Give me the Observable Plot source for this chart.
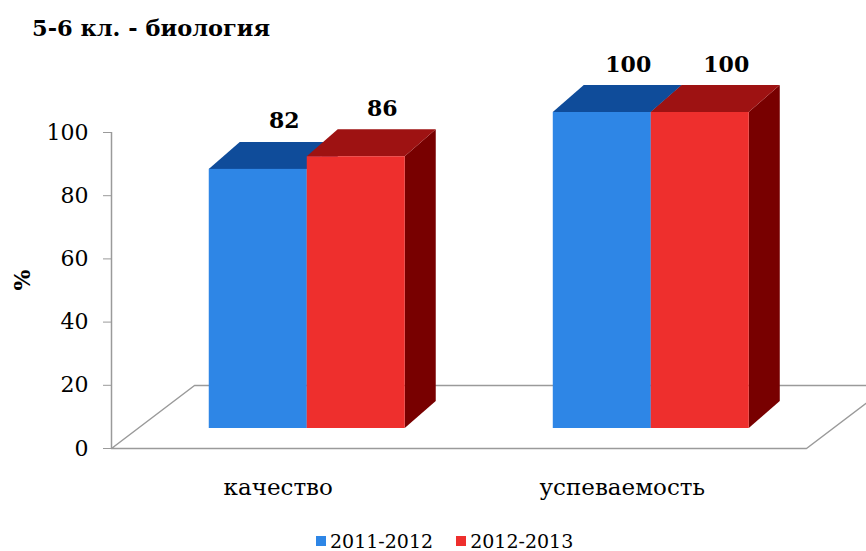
<!DOCTYPE html>
<html><head><meta charset="utf-8">
<script src="https://cdn.jsdelivr.net/npm/d3@7"></script>
<script src="https://cdn.jsdelivr.net/npm/@observablehq/plot@0.6"></script>
<style>
html,body{margin:0;padding:0;background:#fff;overflow:hidden;}
body{width:866px;height:551px;font-family:"DejaVu Serif",serif;color:#000;}
#title{height:50px;box-sizing:border-box;padding:15px 0 0 32px;font-weight:bold;font-size:22.5px;line-height:26px;}
#chart svg{display:block;overflow:hidden;}
#legend{height:39px;box-sizing:border-box;padding:18px 0 0 316px;display:flex;align-items:center;font-size:19px;line-height:20px;}
#legend .sw{width:10px;height:10px;margin-right:4px;display:inline-block;}
#legend .item{display:flex;align-items:center;margin-right:23px;}
</style></head>
<body>
<div id="title">5-6 кл. - биология</div>
<div id="chart"></div>
<div id="legend"></div>
<script>
// ---- data ----
const categories = ["качество", "успеваемость"];
const series = ["2011-2012", "2012-2013"];
const values2011 = [82, 100];
const values2012 = [86, 100];
const yTicks = [0, 20, 40, 60, 80, 100];
const yLabel = "%";
const frontColors = ["#2E86E6", "#EE2F2D"];
const topColors = ["#0F4C9A", "#9E1212"];
const sideColors = ["#0A3A78", "#780000"];

// ---- layout ----
const W = 866, H = 462;
const mL = 111, mR = 60, mT = 82, mB = 64;
const xDomain = [0, categories.length];
const pxX = (W - mL - mR) / (xDomain[1] - xDomain[0]);
const pxY = (H - mT - mB) / 100;
const plane = {dx: 22, dy: -20};       // bars' plane offset (px)
const depth = {dx: 31, dy: 27};        // bar depth (px)
const floorDepth = {dx: 83, dy: 63};   // floor depth (px)
const dX = depth.dx / pxX, dY = depth.dy / pxY;
const fX = floorDepth.dx / pxX, fY = floorDepth.dy / pxY;
const pairFrac = 0.564;
const barW = pairFrac / series.length;
const groupShift = 0.01;

const seriesValues = [values2011, values2012];
const bars = [];
seriesValues.forEach((vals, s) => vals.forEach((v, g) => {
  const xl = g + (1 - pairFrac) / 2 + s * barW - g * groupShift;
  bars.push({s, g, v, xl, xr: xl + barW, id: s + "-" + g});
}));

const floorPts = [
  {x: xDomain[0], y: 0}, {x: xDomain[1], y: 0},
  {x: xDomain[1] + fX, y: fY}, {x: xDomain[0] + fX, y: fY}, {x: xDomain[0], y: 0}
];

const marks = [
  Plot.line(floorPts, {x: "x", y: "y", stroke: "#9a9a9a", strokeWidth: 1.5}),
  Plot.ruleX([0], {y1: 0, y2: 100, stroke: "#9a9a9a", strokeWidth: 1.5}),
  Plot.axisY({ticks: yTicks, tickSize: 8, tickPadding: 15, fontSize: 22, stroke: "#9a9a9a", fill: "#000", label: null}),
  Plot.text([yLabel], {frameAnchor: "left", dx: -89, rotate: -90, fontWeight: "bold", fontSize: 22})
];

series.forEach((name, s) => {
  const bs = bars.filter(b => b.s === s);
  const sides = bs.flatMap(b => [
    {id: b.id, x: b.xr, y1: 0, y2: b.v},
    {id: b.id, x: b.xr + dX, y1: dY, y2: b.v + dY}
  ]);
  const tops = bs.flatMap(b => [
    {id: b.id, y: b.v, x1: b.xl, x2: b.xr},
    {id: b.id, y: b.v + dY, x1: b.xl + dX, x2: b.xr + dX}
  ]);
  marks.push(
    Plot.areaY(sides, {x: "x", y1: "y1", y2: "y2", z: "id", fill: sideColors[s], dx: plane.dx, dy: plane.dy}),
    Plot.areaX(tops, {y: "y", x1: "x1", x2: "x2", z: "id", fill: topColors[s], dx: plane.dx, dy: plane.dy}),
    Plot.rect(bs, {x1: "xl", x2: "xr", y1: 0, y2: "v", fill: frontColors[s], dx: plane.dx, dy: plane.dy})
  );
});

const catData = categories.map((name, i) => ({name, x: i + 0.5 - i * groupShift}));

marks.push(
  Plot.text(bars, {x: b => (b.xl + b.xr) / 2, y: "v", text: b => String(b.v), dx: plane.dx + 26, dy: plane.dy - 48, fontWeight: "bold", fontSize: 22}),
  Plot.text(catData, {x: "x", y: () => 0, text: "name", dx: -7, dy: 39, fontSize: 23})
);

const chart = Plot.plot({
  width: W, height: H,
  marginLeft: mL, marginRight: mR, marginTop: mT, marginBottom: mB,
  style: {fontFamily: "DejaVu Serif", fontSize: "22px", background: "white", color: "black", overflow: "hidden"},
  x: {domain: xDomain, axis: null},
  y: {domain: [0, 100], axis: null},
  marks
});
document.getElementById("chart").appendChild(chart);

const legend = document.getElementById("legend");
series.forEach((name, s) => {
  const item = document.createElement("span");
  item.className = "item";
  const sw = document.createElement("span");
  sw.className = "sw";
  sw.style.background = frontColors[s];
  item.appendChild(sw);
  item.appendChild(document.createTextNode(name));
  legend.appendChild(item);
});
</script>
</body></html>
